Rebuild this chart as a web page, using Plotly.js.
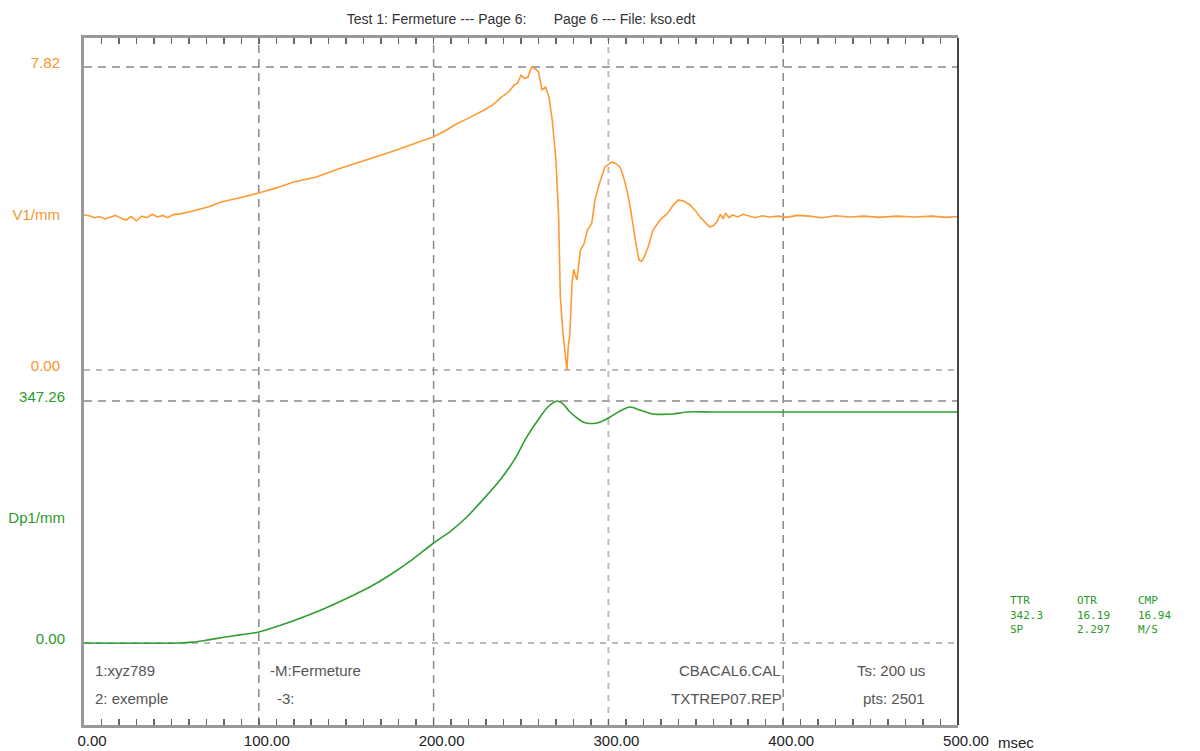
<!DOCTYPE html>
<html>
<head>
<meta charset="utf-8">
<script src="https://cdn.plot.ly/plotly-3.0.1.min.js"></script>
<style>
html,body{margin:0;padding:0;background:#fff;}
#chart{width:1200px;height:751px;}
</style>
</head>
<body>
<div id="chart"></div>
<script>
// ---- data ----
const v1Time = [0,3,6,9,12,15,18,21,24,27,30,33,36,39,42,45,48,51,55,60,66,72,78,85,92,100,110,120,133,145,162,175,190,200,207,213,220,229,234,239,243,246,248,250,252,254,256,258,260,262,264,266,268,270,271.5,272.5,274,275.5,276.3,277,278,279.2,280.2,281,282,284,286,288,290.5,292.3,295,298,300,302,304,306.6,308.5,310.6,312.5,314.1,316,317.5,319,320.5,322.7,325.5,329.5,334,337,340,343,346.7,350,352.4,355,358,360,362,364,365.6,367,369,371,374,377,380,384,388,392,397,402,408,415,422,430,438,446,455,465,475,485,493,500];
const v1Values = [4.00,3.98,3.93,3.96,3.90,3.95,3.99,3.92,3.87,3.96,3.85,3.97,3.93,4.02,3.95,3.99,3.93,4.01,4.03,4.08,4.15,4.22,4.33,4.40,4.48,4.57,4.70,4.85,4.98,5.18,5.42,5.62,5.86,6.02,6.18,6.35,6.50,6.71,6.85,7.05,7.18,7.35,7.40,7.61,7.52,7.56,7.82,7.78,7.70,7.23,7.30,7.05,6.40,5.40,4.00,1.90,0.95,0.40,0.00,0.60,0.95,2.25,2.60,2.45,2.32,3.10,3.25,3.61,3.79,4.39,4.83,5.24,5.30,5.37,5.33,5.24,5.00,4.65,4.20,3.69,3.20,2.84,2.80,2.92,3.17,3.61,3.87,4.05,4.25,4.39,4.36,4.26,4.10,3.95,3.82,3.69,3.72,3.82,4.02,3.90,4.05,3.93,4.00,3.95,4.02,3.98,3.93,3.98,3.95,3.97,3.94,3.99,3.97,3.93,3.98,3.95,3.97,3.94,3.97,3.95,3.97,3.94,3.96];

const dpTime = [0,55,62,70,80,90,100,112,124,138,152,164,175,188,200,210,219,228,238,246,253,259.7,265.4,270.6,274,278,282,285.5,289,293.5,297,301,306,312.4,318,325.5,331,337,345,360,400,450,500];
const dpValues = [0,0,1.2,4.0,8.2,12.0,15.8,25,35.9,50,66,81,97.6,120,143.5,161,180.8,205,233.9,262,294.2,320,338.6,347.26,343,331.5,323,317.1,315,315.7,319,324.3,332,338.6,334.3,328.6,328.0,328.6,331.5,331.5,331.5,331.5,331.5];

const xTickVals = [0,100,200,300,400,500];
const xTickText = ['0.00','100.00','200.00','300.00','400.00','500.00'];
const v1Max = 7.82, dpMax = 347.26;
const v1TickVals = [0, v1Max/2, v1Max];
const v1TickText = ['0.00','V1/mm','7.82'];
const dpTickVals = [0, dpMax/2, dpMax];
const dpTickText = ['0.00','Dp1/mm','347.26'];

const titleText = 'Test 1: Fermeture --- Page 6:&nbsp;&nbsp;&nbsp;&nbsp;&nbsp;&nbsp;&nbsp;Page 6 --- File: kso.edt';
const infoHeaders = ['TTR','OTR','CMP'];
const infoRow1 = ['342.3','16.19','16.94'];
const infoRow2 = ['SP','2.297','M/S'];

const ORANGE = '#ff9a33', ORANGE_TXT = '#f5962e';
const GREEN = '#2f9e2f', GREEN_TXT = '#2a9a2a';
const FONT = 'Liberation Sans, Arial, sans-serif';

const traces = [
  {x: v1Time, y: v1Values, type:'scatter', mode:'lines', line:{color:ORANGE, width:1.6}, yaxis:'y', hoverinfo:'none'},
  {x: dpTime, y: dpValues, type:'scatter', mode:'lines', line:{color:GREEN, width:1.6, shape:'spline', smoothing:0.8}, yaxis:'y2', hoverinfo:'none'}
];

function hline(y, yref, color, width, dash){
  return {type:'line', xref:'paper', x0:0, x1:1, yref:yref, y0:y, y1:y, line:{color:color, width:width, dash:dash}, layer:'below'};
}
function vline(x, color, width, dash){
  return {type:'line', xref:'x', x0:x, x1:x, yref:'paper', y0:0, y1:1, line:{color:color, width:width, dash:dash}, layer:'below'};
}

const shapes = [
  hline(v1Max,'y','#888',1.5,'8px,6px'),
  hline(0,'y','#bbb',2,'6px,6px'),
  hline(dpMax,'y2','#888',1.5,'8px,6px'),
  hline(0,'y2','#bbb',2,'6px,6px'),
  vline(100,'#888',1.5,'8px,6px'),
  vline(200,'#888',1.5,'8px,6px'),
  vline(300,'#bbb',2,'6px,6px'),
  vline(400,'#888',1.5,'8px,6px'),
  {type:'line', xref:'paper', x0:1, x1:1, yref:'paper', y0:0, y1:1, line:{color:'#444', width:2}}
];

function txt(text, x, xref, y, xanchor, extra){
  return Object.assign({text:text, x:x, xref:xref, y:y, yref:'paper', xanchor:xanchor, yanchor:'middle', showarrow:false,
    font:{family:FONT, size:15, color:'#555'}}, extra||{});
}
const monoFont = {family:'DejaVu Sans Mono, monospace', size:11, color:GREEN_TXT};
const colX = [1.0595, 1.1362, 1.2059];
const rowY = [0.1805, 0.1601, 0.1397];
const annotations = [
  txt('1:xyz789', 5, 'x', 0.080, 'left'),
  txt('2: exemple', 5, 'x', 0.039, 'left'),
  txt('-M:Fermeture', 105, 'x', 0.080, 'left'),
  txt('-3:', 109.5, 'x', 0.039, 'left'),
  txt('CBACAL6.CAL', 400, 'x', 0.080, 'right'),
  txt('TXTREP07.REP', 400.5, 'x', 0.039, 'right'),
  txt('Ts: 200 us', 482, 'x', 0.080, 'right'),
  txt('pts: 2501', 482, 'x', 0.039, 'right'),
  txt('msec', 1.044, 'paper', -0.026, 'left', {font:{family:FONT, size:15, color:'#222'}})
];
[infoHeaders, infoRow1, infoRow2].forEach((row, r) => {
  row.forEach((t, c) => {
    annotations.push({text:t, x:colX[c], xref:'paper', y:rowY[r], yref:'paper', xanchor:'left', yanchor:'middle',
      showarrow:false, borderpad:0, borderwidth:0, font:monoFont});
  });
});

const layout = {
  width:1200, height:751,
  paper_bgcolor:'#fff', plot_bgcolor:'#fff',
  margin:{l:84, r:242, t:38, b:26, pad:0},
  showlegend:false,
  title:{text:titleText, x:0.5, xref:'paper', xanchor:'center', y:0.975, yref:'container', yanchor:'middle',
    font:{family:FONT, size:14, color:'#333'}},
  xaxis:{range:[0,500], tickvals:xTickVals, ticktext:xTickText, ticks:'inside', ticklen:6, tickcolor:'#666', tickwidth:1.5,
    showline:true, linecolor:'#999', linewidth:3, mirror:'allticks', showgrid:false, zeroline:false,
    minor:{dtick:10, tick0:0, ticks:'inside', ticklen:4, tickcolor:'#666', tickwidth:1.5, showgrid:false},
    tickfont:{family:FONT, size:15, color:'#222'}, ticklabelshift:8, fixedrange:true},
  yaxis:{range:[-9.161, 8.568], tickvals:v1TickVals, ticktext:v1TickText, ticks:'', showgrid:false, zeroline:false,
    showline:true, linecolor:'#999', linewidth:3, tickfont:{family:FONT, size:15, color:ORANGE_TXT}, ticklabelstandoff:18, ticklabelshift:-4},
  yaxis2:{range:[-117.66, 868.1], overlaying:'y', side:'left', tickvals:dpTickVals, ticktext:dpTickText, ticks:'', showgrid:false,
    zeroline:false, showline:false, tickfont:{family:FONT, size:15, color:GREEN_TXT}, ticklabelstandoff:18, ticklabelshift:-4},
  shapes:shapes,
  annotations:annotations
};

Plotly.newPlot('chart', traces, layout, {displayModeBar:false, staticPlot:true});
</script>
</body>
</html>
